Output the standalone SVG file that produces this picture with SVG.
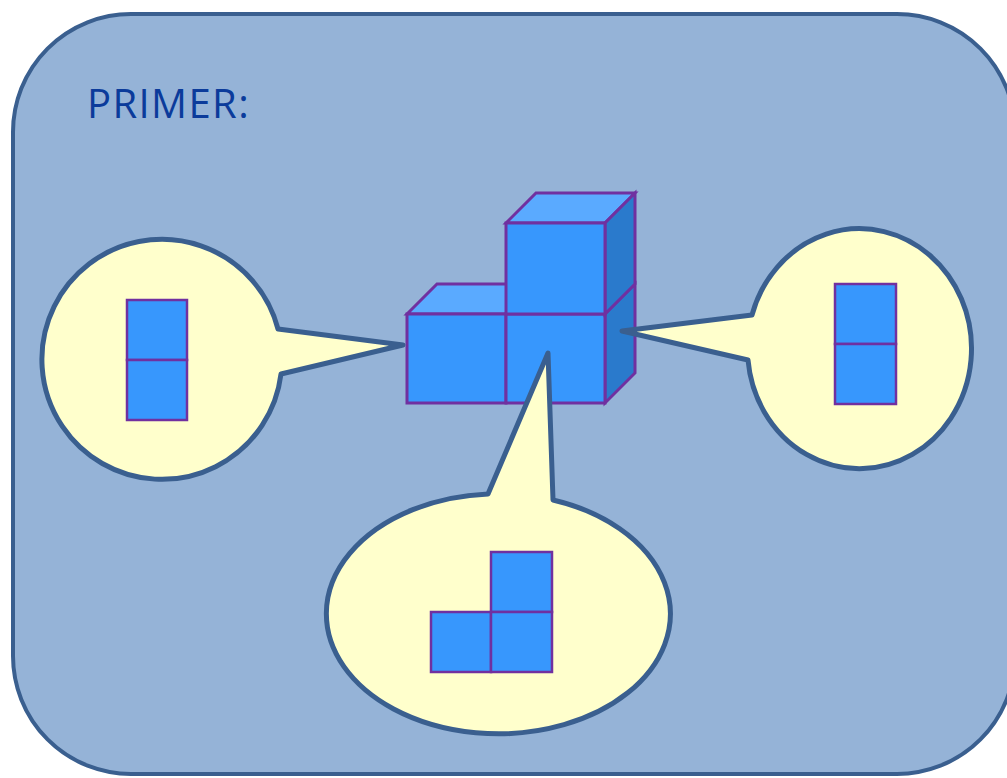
<svg xmlns="http://www.w3.org/2000/svg" width="1007" height="778" viewBox="0 0 1007 778">
  <style>
    .panel { fill: #95B3D7; stroke: #3A5F8F; stroke-width: 4; }
    .callout { fill: #FFFFCC; stroke: #3A5F8F; stroke-width: 5; stroke-linejoin: round; }
    .front { fill: #3797FD; stroke: #7030A0; stroke-width: 3; stroke-linejoin: miter; }
    .top { fill: #5AAAFF; stroke: #7030A0; stroke-width: 3; }
    .side { fill: #2A7ACC; stroke: #7030A0; stroke-width: 3; }
    .sq { fill: #3797FD; stroke: #7030A0; stroke-width: 2.5; }
    .title { font-family: "Open Sans", "Liberation Sans", sans-serif; font-size: 40px; letter-spacing: 1.4px; fill: #0B3B9B; }
  </style>
  <rect width="1007" height="778" fill="#FFFFFF"/>
  <g id="panel">
    <rect class="panel" x="13" y="14" width="1002" height="760" rx="118" ry="118"/>
    <text class="title" x="87" y="118">PRIMER:</text>
  </g>
  <g id="cubes">
    <polygon class="top" points="407,314 437,284 536,284 506,314"/>
    <rect class="front" x="407" y="314" width="99" height="89"/>
    <polygon class="side" points="605,314 635,284 635,373 605,403"/>
    <rect class="front" x="506" y="314" width="99" height="89"/>
    <polygon class="top" points="506,223 536,193 635,193 605,223"/>
    <polygon class="side" points="605,223 635,193 635,284 605,314"/>
    <rect class="front" x="506" y="223" width="99" height="91"/>
  </g>
  <g id="connectors"></g>
  <g id="callout-left">
    <path class="callout" d="M 278,329 L 403,345 L 281,374 A 120 120 0 1 1 278,329 Z"/>
    <rect class="sq" x="127" y="300" width="60" height="60"/>
    <rect class="sq" x="127" y="360" width="60" height="60"/>
  </g>
  <g id="callout-right">
    <path class="callout" d="M 752,315 L 622,331 L 748,360 A 112 120 0 1 0 752,315 Z"/>
    <rect class="sq" x="835" y="284" width="61" height="60"/>
    <rect class="sq" x="835" y="344" width="61" height="60"/>
  </g>
  <g id="callout-bottom">
    <path class="callout" d="M 488,494 L 548,353 L 553,500 A 172 120 0 1 1 488,494 Z"/>
    <rect class="sq" x="491" y="552" width="61" height="60"/>
    <rect class="sq" x="431" y="612" width="60" height="60"/>
    <rect class="sq" x="491" y="612" width="61" height="60"/>
  </g>
</svg>
